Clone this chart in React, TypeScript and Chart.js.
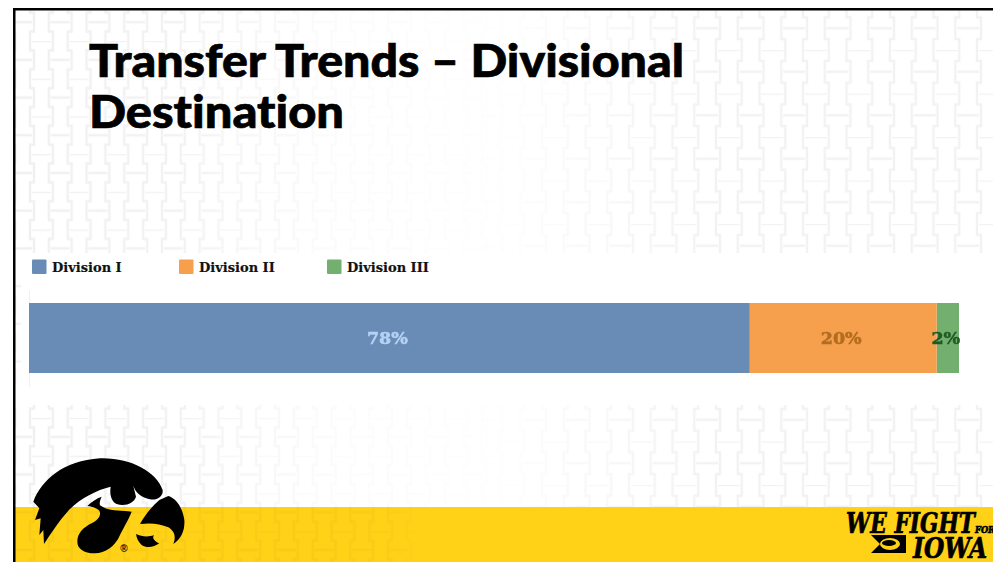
import React, { useEffect, useRef } from "react";
import { Chart, registerables } from "chart.js";

Chart.register(...registerables);

const categories = ["Transfers"];
const seriesNames = ["Division I", "Division II", "Division III"];
const seriesValues = [77.5, 20.1, 2.4];
const seriesLabels = ["78%", "20%", "2%"];
const seriesColors = ["#688CB5", "#F6A04D", "#73B06F"];
const labelColors = ["#B4D2F5", "#B36D20", "#1F5B24"];
const legendBoxX = [32, 179, 327];

const labelPlugin = {
  id: "stackLabels",
  afterDatasetsDraw(chart: any) {
    const { ctx } = chart;
    ctx.save();
    ctx.font = "bold 17.5px 'DejaVu Serif'";
    ctx.textAlign = "center";
    ctx.textBaseline = "middle";
    ctx.lineWidth = 0.5;
    chart.data.datasets.forEach((_: any, i: number) => {
      const el = chart.getDatasetMeta(i).data[0];
      const p = el.getCenterPoint();
      ctx.fillStyle = labelColors[i];
      ctx.strokeStyle = labelColors[i];
      ctx.fillText(seriesLabels[i], p.x - 2, p.y + 1.5);
      ctx.strokeText(seriesLabels[i], p.x - 2, p.y + 1.5);
    });
    ctx.restore();
  },
};

function Brick({ id, x, y, s }: { id: string; x: number; y: number; s: number }) {
  return (
    <pattern id={id} x={x} y={y} width={s} height={s} patternUnits="userSpaceOnUse">
      <g fill="none" stroke="#000" strokeWidth="2.4">
        <path d={`M0 0 H${s / 2} M${s / 2} ${s / 2} H${s}`} />
        <path d={`M${s / 2 + 2} ${-2} V${s / 4} H${s / 2 - 2} V${(3 * s) / 4} H${s / 2 + 2} V${s + 2}`} />
        <path d={`M${s - 2} ${-2} V${s / 4} H${s + 2} V${(3 * s) / 4} H${s - 2} V${s + 2}`} />
        <path d={`M-2 ${-2} V${s / 4} H2 V${(3 * s) / 4} H-2 V${s + 2}`} />
      </g>
    </pattern>
  );
}

function Background() {
  const hawk = (
    <g transform="translate(0 440) scale(0.33333)" fill="#000">
      <path d="M100 185 C125 120 190 62 300 55 C390 52 470 95 488 150 C490 170 470 182 450 178 C425 172 408 160 400 138 L408 170 C402 190 375 200 350 192 C335 185 328 165 332 140 C290 150 240 175 205 212 C175 245 150 285 132 312 L130 270 L118 285 L122 235 L105 240 L118 205 Z" />
      <path d="M262 198 C275 185 290 175 305 170 C300 180 298 190 300 196 C325 215 360 210 395 215 C385 240 375 255 360 285 C345 320 315 340 285 340 C250 340 232 325 232 305 C232 280 250 262 275 250 C295 240 305 225 298 212 C290 203 275 200 262 198 Z" />
      <path d="M478 180 L505 168 C530 175 548 205 553 240 C555 270 545 295 520 312 C528 290 525 275 505 262 C480 250 450 248 420 252 C435 225 455 200 478 180 Z" />
      <path d="M408 282 C425 290 445 292 462 285 C455 295 465 305 478 310 C462 322 440 325 425 315 C415 305 410 295 408 282 Z" />
      <text x="372" y="336" fontSize="30" fontFamily="'Liberation Sans'" fontWeight="700" textAnchor="middle">®</text>
    </g>
  );
  return (
    <svg width={993} height={562} style={{ position: "absolute", left: 0, top: 0 }}>
      <defs>
        <Brick id="brickL" x={32} y={3.3} s={37.7} />
        <Brick id="brickR" x={22} y={6.5} s={43.5} />
        <linearGradient id="fadeL" x1="0" x2="1" y1="0" y2="0">
          <stop offset="0" stopColor="#fff" stopOpacity="0.06" />
          <stop offset="0.18" stopColor="#fff" stopOpacity="0.05" />
          <stop offset="0.33" stopColor="#fff" stopOpacity="0.015" />
          <stop offset="0.46" stopColor="#fff" stopOpacity="0.008" />
          <stop offset="0.52" stopColor="#fff" stopOpacity="0" />
        </linearGradient>
        <linearGradient id="fadeR" x1="0" x2="1" y1="0" y2="0">
          <stop offset="0.46" stopColor="#fff" stopOpacity="0" />
          <stop offset="0.52" stopColor="#fff" stopOpacity="0.008" />
          <stop offset="0.64" stopColor="#fff" stopOpacity="0.035" />
          <stop offset="0.72" stopColor="#fff" stopOpacity="0.05" />
          <stop offset="1" stopColor="#fff" stopOpacity="0.05" />
        </linearGradient>
        <linearGradient id="fadeY" x1="0" x2="1" y1="0" y2="0">
          <stop offset="0" stopColor="#fff" stopOpacity="0.03" />
          <stop offset="0.38" stopColor="#fff" stopOpacity="0.025" />
          <stop offset="0.43" stopColor="#fff" stopOpacity="0" />
          <stop offset="1" stopColor="#fff" stopOpacity="0" />
        </linearGradient>
        <mask id="mL" maskUnits="userSpaceOnUse" x="0" y="0" width="993" height="562">
          <rect x="0" y="0" width="993" height="562" fill="url(#fadeL)" />
        </mask>
        <mask id="mR" maskUnits="userSpaceOnUse" x="0" y="0" width="993" height="562">
          <rect x="0" y="0" width="993" height="562" fill="url(#fadeR)" />
        </mask>
        <mask id="mY" maskUnits="userSpaceOnUse" x="0" y="0" width="993" height="562">
          <rect x="0" y="0" width="993" height="562" fill="url(#fadeY)" />
        </mask>
      </defs>
      <rect x="0" y="0" width="993" height="562" fill="#fff" />
      <g mask="url(#mL)">
        <rect x="15" y="10" width="978" height="243" fill="url(#brickL)" />
        <rect x="15" y="405" width="978" height="102" fill="url(#brickL)" />
      </g>
      <g mask="url(#mR)">
        <rect x="15" y="10" width="978" height="243" fill="url(#brickR)" />
        <rect x="15" y="405" width="978" height="102" fill="url(#brickR)" />
      </g>
      <rect x="15" y="283" width="6" height="100" fill="url(#brickL)" opacity="0.05" />
      <rect x="15" y="507" width="978" height="55" fill="#FFD117" />
      <g mask="url(#mY)">
        <rect x="15" y="507" width="978" height="55" fill="url(#brickL)" />
      </g>
      <rect x="13" y="8" width="980" height="2.5" fill="#000" />
      <rect x="13" y="8" width="2.5" height="554" fill="#000" />

      <g
        fontFamily="Lato, 'Open Sans', sans-serif"
        fontWeight="900"
        fontSize="46"
        fill="#000"
        stroke="#000"
        strokeWidth="0.7"
        style={{ fontVariantLigatures: "none" }}
      >
        <text x="89" y="77" textLength="595" lengthAdjust="spacingAndGlyphs">Transfer Trends – Divisional</text>
        <text x="89" y="128" textLength="255" lengthAdjust="spacingAndGlyphs">Destination</text>
      </g>

      {seriesNames.map((name, i) => (
        <g key={name}>
          <rect x={legendBoxX[i]} y={259.5} width={14.5} height={14.5} rx={1} fill={seriesColors[i]} />
          <text x={legendBoxX[i] + 20} y={272} fontFamily="'DejaVu Serif'" fontWeight="700" fontSize="13" fill="#111" stroke="#111" strokeWidth="0.2">{name}</text>
        </g>
      ))}

      {hawk}

      <g fill="#000" stroke="#000" strokeWidth="0.7" fontFamily="'DejaVu Serif'" fontWeight="700" fontStyle="italic">
        <text x="846" y="533" fontSize="27" textLength="129" lengthAdjust="spacingAndGlyphs">WE FIGHT</text>
        <text x="975" y="533" fontSize="10" textLength="20" lengthAdjust="spacingAndGlyphs">FOR</text>
        <text x="913" y="558" fontSize="28" textLength="74" lengthAdjust="spacingAndGlyphs">IOWA</text>
      </g>
      <path d="M871 535 H906 L906 553 H871 L880 544 Z" fill="#000" />
      <ellipse cx="890" cy="544" rx="10" ry="6" fill="#FFD117" />
      <ellipse cx="889" cy="543" rx="7" ry="3" fill="#000" />
    </svg>
  );
}

export default function App() {
  const ref = useRef<HTMLCanvasElement>(null);
  useEffect(() => {
    const chart = new Chart(ref.current!, {
      type: "bar",
      data: {
        labels: categories,
        datasets: seriesNames.map((name, i) => ({
          label: name,
          data: [seriesValues[i]],
          backgroundColor: seriesColors[i],
          borderWidth: 0,
          barPercentage: 0.9,
          categoryPercentage: 0.81,
        })),
      },
      options: {
        indexAxis: "y",
        animation: false,
        responsive: false,
        maintainAspectRatio: false,
        layout: { padding: { left: 29, right: 34, top: 290, bottom: 176 } },
        plugins: { legend: { display: false }, title: { display: false }, tooltip: { enabled: false } },
        scales: {
          x: { stacked: true, min: 0, max: 100, display: false },
          y: {
            stacked: true,
            ticks: { display: false },
            grid: { drawOnChartArea: false, drawTicks: false, tickLength: 0 },
            border: { display: true, color: "#f0f0f0", width: 1 },
          },
        },
      },
      plugins: [labelPlugin],
    } as any);
    return () => chart.destroy();
  }, []);
  return (
    <div style={{ position: "absolute", left: 0, top: 0, width: 993, height: 562, overflow: "hidden", background: "#fff" }}>
      <Background />
      <canvas ref={ref} width={993} height={562} style={{ position: "absolute", left: 0, top: 0, display: "block" }} />
    </div>
  );
}
